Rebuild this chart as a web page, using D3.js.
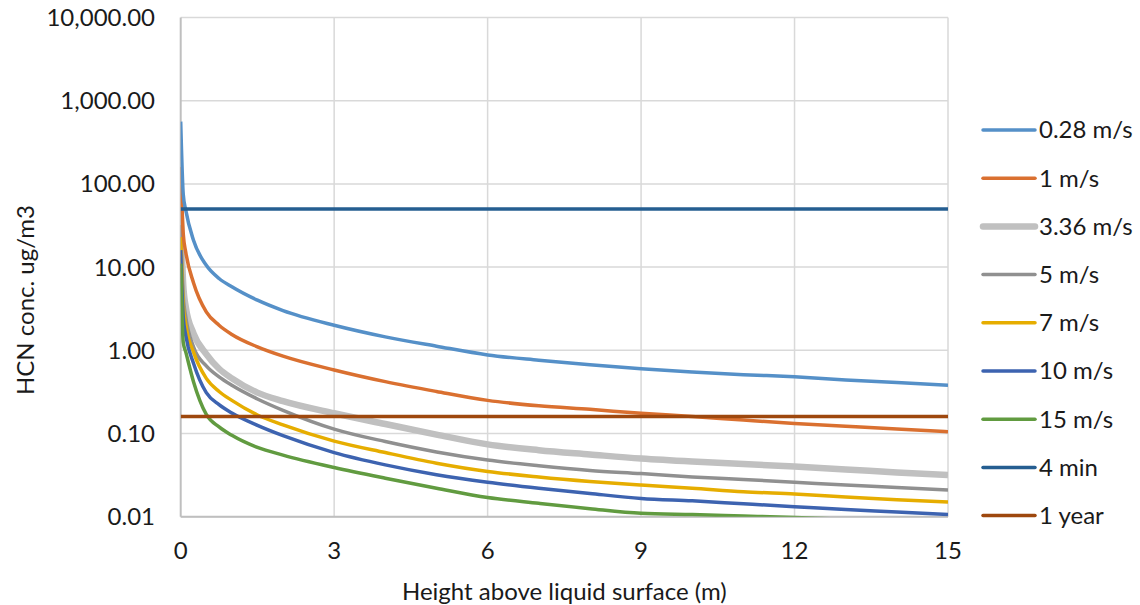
<!DOCTYPE html>
<html>
<head>
<meta charset="UTF-8">
<title>HCN concentration</title>
<style>
    body { margin: 0; background: #fff; }
    svg { display: block; font-family: Lato, "Liberation Sans", sans-serif; }
    .grid line { stroke: #d9d9d9; stroke-width: 1.5; }
    .tick-label { font-size: 24px; fill: #1a1a1a; }
</style>
</head>
<body>
<div id="chart"></div>
<script src="https://cdnjs.cloudflare.com/ajax/libs/d3/7.8.5/d3.min.js"></script>
<script>
    // data
    const heights = [0, 0.05, 0.1, 0.25, 0.5, 0.75, 1, 1.5, 2, 3, 4, 5, 6, 7, 8, 9, 10, 11, 12, 13, 14, 15];
    const wind028 = [560, 75, 48, 21, 10.5, 7.3, 5.8, 4.0, 3.0, 2.0, 1.45, 1.12, 0.88, 0.76, 0.67, 0.6, 0.55, 0.51, 0.48, 0.44, 0.41, 0.38];
    const wind1 = [160, 25, 15, 6.5, 2.9, 2.0, 1.55, 1.1, 0.85, 0.58, 0.42, 0.32, 0.25, 0.215, 0.195, 0.175, 0.16, 0.145, 0.132, 0.122, 0.113, 0.105];
    const wind336 = [45, 6, 3.3, 1.6, 0.9, 0.6, 0.46, 0.31, 0.245, 0.175, 0.13, 0.097, 0.074, 0.063, 0.056, 0.050, 0.046, 0.043, 0.040, 0.037, 0.034, 0.0316];
    const wind5 = [32, 4.5, 2.5, 1.1, 0.65, 0.48, 0.38, 0.26, 0.19, 0.113, 0.08, 0.06, 0.048, 0.041, 0.036, 0.033, 0.030, 0.028, 0.026, 0.024, 0.0225, 0.021];
    const wind7 = [23, 3.5, 2.0, 0.95, 0.46, 0.32, 0.25, 0.167, 0.127, 0.081, 0.059, 0.044, 0.035, 0.030, 0.0265, 0.024, 0.022, 0.020, 0.0187, 0.0173, 0.016, 0.015];
    const wind10 = [16, 2.5, 1.5, 0.7, 0.31, 0.222, 0.176, 0.125, 0.094, 0.059, 0.042, 0.032, 0.026, 0.022, 0.019, 0.0166, 0.0155, 0.0143, 0.0132, 0.0122, 0.0114, 0.0106];
    const wind15 = [11, 1.25, 0.95, 0.42, 0.17, 0.12, 0.095, 0.068, 0.055, 0.039, 0.029, 0.022, 0.017, 0.0145, 0.0125, 0.011, 0.0106, 0.0102, 0.0098, 0.0093, 0.0088, 0.0083];
    const limit4min = 50;
    const limit1year = 0.16;

    const seriesNames = ["0.28 m/s", "1 m/s", "3.36 m/s", "5 m/s", "7 m/s", "10 m/s", "15 m/s", "4 min", "1 year"];
    const colors = ["#5590c8", "#da7030", "#c0c0c0", "#909090", "#e6ad00", "#3d63b0", "#619b40", "#255e91", "#9e480e"];
    const widths = [3.5, 3.5, 6.5, 3.5, 3.5, 3.5, 3.5, 3.5, 3.5];

    const xTicks = [0, 3, 6, 9, 12, 15];
    const yTicks = [0.01, 0.1, 1, 10, 100, 1000, 10000];

    const W = 1140, H = 605;
    const pLeft = 180.7, pRight = 948, pTop = 17.5, pBottom = 516.7;

    const x = d3.scaleLinear().domain([0, 15]).range([pLeft, pRight]);
    const y = d3.scaleLog().domain([0.01, 10000]).range([pBottom, pTop]);

    const svg = d3.select("#chart").append("svg")
        .attr("width", W)
        .attr("height", H);

    // gridlines
    const grid = svg.append("g").attr("class", "grid");
    grid.selectAll(".hg").data(yTicks).enter().append("line")
        .attr("x1", pLeft).attr("x2", pRight)
        .attr("y1", d => y(d)).attr("y2", d => y(d));
    grid.selectAll(".vg").data(xTicks.slice(1)).enter().append("line")
        .attr("y1", pTop).attr("y2", pBottom)
        .attr("x1", d => x(d)).attr("x2", d => x(d));

    // axis lines
    svg.append("line").attr("x1", pLeft).attr("x2", pLeft).attr("y1", pTop).attr("y2", pBottom)
        .attr("stroke", "#bfbfbf").attr("stroke-width", 2);
    svg.append("line").attr("x1", pLeft).attr("x2", pRight).attr("y1", pBottom).attr("y2", pBottom)
        .attr("stroke", "#bfbfbf").attr("stroke-width", 2);

    // tick labels
    const fmt = d3.format(",.2f");
    svg.selectAll(".ylab").data(yTicks).enter().append("text")
        .attr("class", "tick-label")
        .attr("x", 155)
        .attr("y", d => y(d))
        .attr("dy", "0.35em")
        .attr("text-anchor", "end")
        .text(d => fmt(d));
    svg.selectAll(".xlab").data(xTicks).enter().append("text")
        .attr("class", "tick-label")
        .attr("x", d => x(d))
        .attr("y", 551)
        .attr("dy", "0.35em")
        .attr("text-anchor", "middle")
        .text(d => d);

    // axis titles
    svg.append("text").attr("class", "tick-label")
        .attr("x", (pLeft + pRight) / 2).attr("y", 592).attr("dy", "0.35em")
        .attr("text-anchor", "middle")
        .text("Height above liquid surface (m)");
    svg.append("text").attr("class", "tick-label")
        .attr("transform", "translate(26,300) rotate(-90)")
        .attr("dy", "0.35em")
        .attr("text-anchor", "middle")
        .text("HCN conc. ug/m3");

    // clip the curves to the plot area
    svg.append("clipPath").attr("id", "plotclip")
        .append("rect").attr("x", pLeft).attr("y", pTop)
        .attr("width", pRight - pLeft).attr("height", pBottom - pTop);

    const curves = [wind028, wind1, wind336, wind5, wind7, wind10, wind15];
    const line = d3.line()
        .x((d, i) => x(heights[i]))
        .y(d => y(d))
        .curve(d3.curveMonotoneX);

    const plot = svg.append("g").attr("clip-path", "url(#plotclip)");

    // gray ones first so the coloured curves sit on top
    const order = [2, 3, 4, 5, 6, 1, 0];
    order.forEach(k => {
        plot.append("path")
            .datum(curves[k])
            .attr("fill", "none")
            .attr("stroke", colors[k])
            .attr("stroke-width", widths[k])
            .attr("stroke-linejoin", "round")
            .attr("d", line);
    });

    [limit4min, limit1year].forEach((v, j) => {
        plot.append("line")
            .attr("x1", x(0)).attr("x2", x(15))
            .attr("y1", y(v)).attr("y2", y(v))
            .attr("stroke", colors[7 + j])
            .attr("stroke-width", widths[7 + j]);
    });

    // legend
    const legend = svg.append("g");
    seriesNames.forEach((name, i) => {
        const ly = 130 + i * 48.2;
        legend.append("line")
            .attr("x1", 983).attr("x2", 1035)
            .attr("y1", ly).attr("y2", ly)
            .attr("stroke", colors[i])
            .attr("stroke-width", widths[i])
            .attr("stroke-linecap", "round");
        legend.append("text").attr("class", "tick-label")
            .attr("x", 1039).attr("y", ly).attr("dy", "0.35em")
            .text(name);
    });
</script>
</body>
</html>
